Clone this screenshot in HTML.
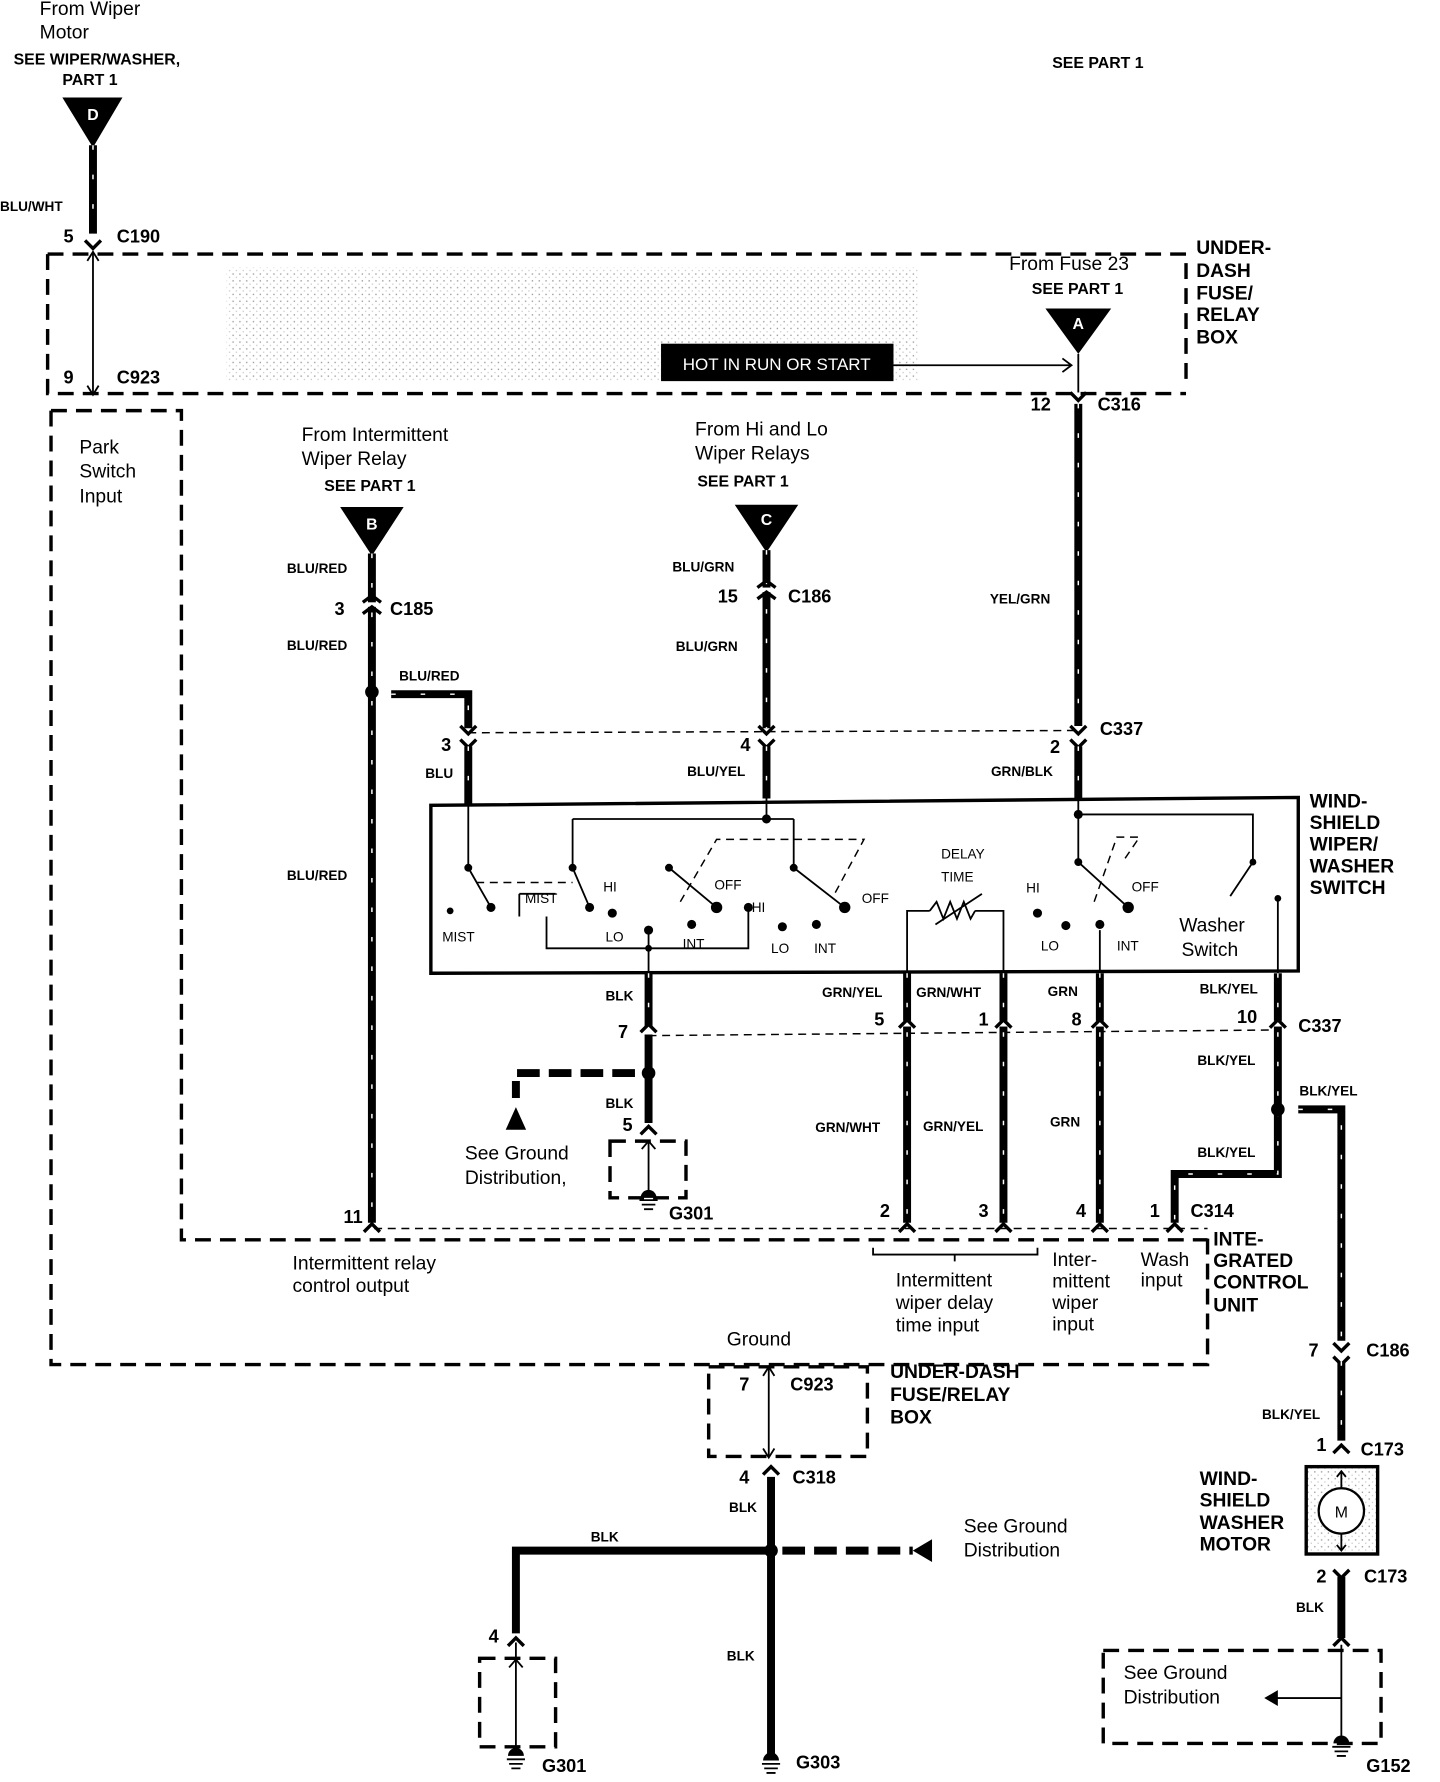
<!DOCTYPE html>
<html><head><meta charset="utf-8"><style>
html,body{margin:0;padding:0;background:#fff;}
svg{display:block}
text{font-family:"Liberation Sans Narrow","Liberation Sans",sans-serif;fill:#000}
.s{font-size:12px;font-weight:bold}
.m{font-size:17px}
.n{font-size:16px;font-weight:bold}
.b{font-size:17px;font-weight:bold}
.w{stroke:#000;stroke-width:7;fill:none}
.wd{stroke:#fff;stroke-width:1.3;stroke-dasharray:4 22;fill:none}
.t{stroke:#000;stroke-width:1.6;fill:none}
.dk{stroke:#000;stroke-width:3;stroke-dasharray:14 8;fill:none}
.dt{stroke:#000;stroke-width:1.3;stroke-dasharray:7 5;fill:none}
.dw{stroke:#000;stroke-width:7;stroke-dasharray:20 8;fill:none}
.c{stroke:#000;stroke-width:3;fill:none}
</style></head><body>
<svg width="1440" height="1782" viewBox="0 0 1270 1571" preserveAspectRatio="none" xmlns="http://www.w3.org/2000/svg">
<defs>
<pattern id="dots" width="6" height="6" patternUnits="userSpaceOnUse"><rect x="1" y="1" width="1.2" height="1.2" fill="#999"/><rect x="4" y="4" width="1" height="1" fill="#bbb"/></pattern>
</defs>
<rect width="1270" height="1571" fill="#fff"/>
<rect x="200" y="236" width="610" height="100" fill="url(#dots)"/>

<text x="35" y="13" class="m">From Wiper</text>
<text x="35" y="34" class="m">Motor</text>
<text x="12" y="57" class="s" style="font-size:14px">SEE WIPER/WASHER,</text>
<text x="55" y="75" class="s" style="font-size:14px">PART 1</text>
<polygon points="55,86 108,86 82,130" fill="#000"/>
<text x="82" y="106" style="fill:#fff;font-size:14px;font-weight:bold" text-anchor="middle">D</text>
<line x1="82" y1="128" x2="82" y2="206" class="w"/><line x1="82" y1="128" x2="82" y2="206" class="wd"/>
<text x="0" y="186" class="s">BLU/WHT</text>
<text x="56" y="214" class="n">5</text><text x="103" y="214" class="n">C190</text>
<path d="M75,212 L82,219 L89,212" class="c"/>
<text x="928" y="60" class="s" style="font-size:14px">SEE PART 1</text>

<path d="M42,224 L1046,224 L1046,340 M42,224 L42,347 L1046,347" class="dk"/>
<line x1="82" y1="222" x2="82" y2="347" class="t"/>
<path d="M77,230 L82,222 L87,230 M77,340 L82,348 L87,340" class="t"/>
<text x="56" y="338" class="n">9</text><text x="103" y="338" class="n">C923</text>
<text x="1055" y="224" class="b">UNDER-</text><text x="1055" y="244" class="b">DASH</text>
<text x="1055" y="264" class="b">FUSE/</text><text x="1055" y="283" class="b">RELAY</text><text x="1055" y="303" class="b">BOX</text>
<text x="890" y="238" class="m">From Fuse 23</text>
<text x="910" y="259" class="s" style="font-size:14px">SEE PART 1</text>
<polygon points="922,272 980,272 951,312" fill="#000"/>
<text x="951" y="290" style="fill:#fff;font-size:14px;font-weight:bold" text-anchor="middle">A</text>
<rect x="583" y="303" width="205" height="33" fill="#000"/>
<text x="685" y="326" text-anchor="middle" style="fill:#fff;font-size:15px">HOT IN RUN OR START</text>
<line x1="788" y1="322" x2="944" y2="322" class="t"/>
<path d="M937,316 L945,322 L937,328" class="t"/>
<line x1="951" y1="312" x2="951" y2="346" class="t"/>
<path d="M944,346 L951,353 L958,346" class="c"/>
<text x="909" y="362" class="n">12</text><text x="968" y="362" class="n">C316</text>
<line x1="951" y1="356" x2="951" y2="640" class="w"/><line x1="951" y1="356" x2="951" y2="640" class="wd"/>
<text x="873" y="532" class="s">YEL/GRN</text>

<path d="M45,362 L160,362 L160,1093 L1065,1093 M45,362 L45,1203 L1065,1203 L1065,1086" class="dk"/>
<line x1="330" y1="1083" x2="1065" y2="1083" class="dt"/>
<text x="70" y="400" class="m">Park</text><text x="70" y="421" class="m">Switch</text><text x="70" y="443" class="m">Input</text>

<text x="266" y="389" class="m">From Intermittent</text>
<text x="266" y="410" class="m">Wiper Relay</text>
<text x="286" y="433" class="s" style="font-size:14px">SEE PART 1</text>
<polygon points="300,447 356,447 328,490" fill="#000"/>
<text x="328" y="467" style="fill:#fff;font-size:14px;font-weight:bold" text-anchor="middle">B</text>
<line x1="328" y1="488" x2="328" y2="1078" class="w"/><line x1="328" y1="488" x2="328" y2="1078" class="wd"/>
<rect x="320" y="531" width="16" height="4" fill="#fff"/>
<path d="M320,531 L328,525 L336,531 M320,541 L328,535 L336,541" class="c"/>
<text x="253" y="505" class="s">BLU/RED</text>
<text x="295" y="542" class="n">3</text><text x="344" y="542" class="n">C185</text>
<text x="253" y="573" class="s">BLU/RED</text>
<text x="253" y="776" class="s">BLU/RED</text>
<circle cx="328" cy="610" r="6" fill="#000"/>
<text x="352" y="600" class="s">BLU/RED</text>
<path d="M345,612 L413,612 L413,642" class="w"/><path d="M345,612 L413,612 L413,642" class="wd"/>
<path d="M406,640 L413,647 L420,640 M406,652 L413,659 L420,652" class="c"/>
<text x="389" y="662" class="n">3</text><text x="375" y="686" class="s">BLU</text>
<line x1="413" y1="658" x2="413" y2="710" class="w"/><line x1="413" y1="658" x2="413" y2="710" class="wd"/>
<text x="303" y="1078" class="n">11</text>
<path d="M321,1086 L328,1079 L335,1086" class="c"/>

<text x="613" y="384" class="m">From Hi and Lo</text>
<text x="613" y="405" class="m">Wiper Relays</text>
<text x="615" y="429" class="s" style="font-size:14px">SEE PART 1</text>
<polygon points="648,445 704,445 676,487" fill="#000"/>
<text x="676" y="463" style="fill:#fff;font-size:14px;font-weight:bold" text-anchor="middle">C</text>
<line x1="676" y1="485" x2="676" y2="642" class="w"/><line x1="676" y1="485" x2="676" y2="642" class="wd"/>
<rect x="668" y="518" width="16" height="4" fill="#fff"/>
<path d="M668,518 L676,512 L684,518 M668,528 L676,522 L684,528" class="c"/>
<text x="593" y="504" class="s">BLU/GRN</text>
<text x="633" y="531" class="n">15</text><text x="695" y="531" class="n">C186</text>
<text x="596" y="574" class="s">BLU/GRN</text>
<path d="M669,640 L676,647 L683,640 M669,652 L676,659 L683,652" class="c"/>
<text x="653" y="662" class="n">4</text><text x="606" y="684" class="s">BLU/YEL</text>
<line x1="676" y1="658" x2="676" y2="704" class="w"/><line x1="676" y1="658" x2="676" y2="704" class="wd"/>
<path d="M944,640 L951,647 L958,640 M944,652 L951,659 L958,652" class="c"/>
<text x="970" y="648" class="n">C337</text>
<text x="926" y="664" class="n">2</text><text x="874" y="684" class="s">GRN/BLK</text>
<line x1="951" y1="658" x2="951" y2="704" class="w"/><line x1="951" y1="658" x2="951" y2="704" class="wd"/>
<line x1="413" y1="646" x2="951" y2="644" class="dt"/>

<path d="M380,858 L380,710 L1145,703 L1145,856 Z" fill="none" stroke="#000" stroke-width="3"/>
<text x="1155" y="712" class="b">WIND-</text><text x="1155" y="731" class="b">SHIELD</text>
<text x="1155" y="750" class="b">WIPER/</text><text x="1155" y="769" class="b">WASHER</text><text x="1155" y="788" class="b">SWITCH</text>
<g class="t">
<path d="M413,710 L413,765"/><path d="M413,765 L433,800"/>
<path d="M676,704 L676,722 M505,722 L700,722 M505,722 L505,765 M700,722 L700,765"/>
<path d="M951,704 L951,760 M951,718 L1105,718 L1105,760"/>
<path d="M505,765 L520,800 M700,765 L745,800 M590,765 L632,800 M951,760 L995,800 M1105,760 L1085,790"/>
<path d="M482,808 L482,836 L660,836 L660,800 M572,820 L572,858"/>
<path d="M458,788 L458,808 M458,788 L490,788"/>
<path d="M800,858 L800,803 L820,803 M860,803 L885,803 L885,858 M820,803 L826,795 L832,810 L838,795 L844,810 L850,795 L856,810 L860,803 M825,815 L866,788"/>
<path d="M970,820 L970,858 M1127,790 L1127,858"/>
</g>
<g class="dt"><path d="M600,795 L632,740 L762,740 L735,790"/><path d="M965,795 L985,738 L1005,738 L990,760"/><path d="M420,778 L505,778"/></g>
<g fill="#000">
<circle cx="413" cy="765" r="3.5"/><circle cx="397" cy="803" r="3"/><circle cx="433" cy="800" r="4"/><circle cx="505" cy="765" r="3.5"/><circle cx="520" cy="800" r="4"/>
<circle cx="540" cy="805" r="4"/><circle cx="572" cy="820" r="4"/><circle cx="610" cy="815" r="4"/><circle cx="590" cy="765" r="3.5"/><circle cx="632" cy="800" r="5"/>
<circle cx="660" cy="800" r="4"/><circle cx="700" cy="765" r="3.5"/><circle cx="745" cy="800" r="5"/><circle cx="690" cy="817" r="4"/><circle cx="720" cy="815" r="4"/>
<circle cx="676" cy="722" r="4"/><circle cx="951" cy="718" r="4"/><circle cx="951" cy="760" r="3.5"/><circle cx="995" cy="800" r="5"/><circle cx="915" cy="805" r="4"/>
<circle cx="940" cy="816" r="4"/><circle cx="970" cy="815" r="4"/><circle cx="1105" cy="760" r="3"/><circle cx="1127" cy="792" r="3"/><circle cx="572" cy="836" r="3"/>
</g>
<g style="font-size:12px">
<text x="390" y="830">MIST</text><text x="463" y="796">MIST</text><text x="532" y="786">HI</text><text x="534" y="830">LO</text><text x="602" y="836">INT</text>
<text x="630" y="784">OFF</text><text x="663" y="804">HI</text><text x="680" y="840">LO</text><text x="718" y="840">INT</text><text x="760" y="796">OFF</text>
<text x="830" y="757">DELAY</text><text x="830" y="777">TIME</text><text x="905" y="787">HI</text><text x="918" y="838">LO</text><text x="985" y="838">INT</text><text x="998" y="786">OFF</text>
</g>
<text x="1040" y="821" class="m">Washer</text><text x="1042" y="843" class="m">Switch</text>

<line x1="572" y1="858" x2="572" y2="905" class="w"/><line x1="572" y1="858" x2="572" y2="905" class="wd"/>
<text x="534" y="882" class="s">BLK</text><text x="545" y="915" class="n">7</text>
<path d="M565,910 L572,903 L579,910" class="c"/>
<line x1="572" y1="912" x2="572" y2="946" class="w"/>
<line x1="572" y1="913" x2="1125" y2="908" class="dt"/>
<circle cx="572" cy="946" r="6" fill="#000"/>
<path d="M560,946 L455,946 L455,968" class="dw"/>
<polygon points="455,976 446,996 464,996" fill="#000"/>
<text x="410" y="1022" class="m">See Ground</text><text x="410" y="1044" class="m">Distribution,</text>
<line x1="572" y1="950" x2="572" y2="990" class="w"/>
<text x="534" y="977" class="s">BLK</text><text x="549" y="997" class="n">5</text>
<path d="M565,1000 L572,993 L579,1000" class="c"/>
<rect x="538" y="1006" width="67" height="50" class="dk"/>
<line x1="572" y1="1005" x2="572" y2="1050" class="t"/><path d="M566,1013 L572,1006 L578,1013" class="t"/>
<g class="t"><path d="M564,1058 L580,1058 M566,1062 L578,1062 M568,1066 L576,1066"/></g>
<path d="M565,1056 A7,7 0 0 1 579,1056 Z" fill="#000"/>
<text x="590" y="1075" class="n">G301</text>

<g>
<line x1="800" y1="858" x2="800" y2="1078" class="w"/><line x1="800" y1="858" x2="800" y2="1078" class="wd"/>
<line x1="885" y1="858" x2="885" y2="1078" class="w"/><line x1="885" y1="858" x2="885" y2="1078" class="wd"/>
<line x1="970" y1="858" x2="970" y2="1078" class="w"/><line x1="970" y1="858" x2="970" y2="1078" class="wd"/>
<line x1="1127" y1="858" x2="1127" y2="975" class="w"/><line x1="1127" y1="858" x2="1127" y2="975" class="wd"/>
<path d="M1127,980 L1127,1035 L1036,1035 L1036,1078" class="w"/><path d="M1127,980 L1127,1035 L1036,1035 L1036,1078" class="wd"/>
</g>
<g fill="#fff"><rect x="790" y="900" width="20" height="5"/><rect x="875" y="900" width="20" height="5"/><rect x="960" y="900" width="20" height="5"/><rect x="1117" y="900" width="20" height="5"/></g>
<path d="M793,906 L800,899 L807,906 M878,906 L885,899 L892,906 M963,906 L970,899 L977,906 M1120,906 L1127,899 L1134,906" class="c"/>
<text x="725" y="879" class="s">GRN/YEL</text><text x="808" y="879" class="s">GRN/WHT</text><text x="924" y="878" class="s">GRN</text><text x="1058" y="876" class="s">BLK/YEL</text>
<text x="771" y="904" class="n">5</text><text x="863" y="904" class="n">1</text><text x="945" y="904" class="n">8</text><text x="1091" y="902" class="n">10</text><text x="1145" y="910" class="n">C337</text>
<text x="1056" y="939" class="s">BLK/YEL</text>
<circle cx="1127" cy="978" r="6" fill="#000"/>
<text x="1146" y="966" class="s">BLK/YEL</text>
<text x="719" y="998" class="s">GRN/WHT</text><text x="814" y="997" class="s">GRN/YEL</text><text x="926" y="993" class="s">GRN</text><text x="1056" y="1020" class="s">BLK/YEL</text>
<text x="776" y="1073" class="n">2</text><text x="863" y="1073" class="n">3</text><text x="949" y="1073" class="n">4</text><text x="1014" y="1073" class="n">1</text><text x="1050" y="1073" class="n">C314</text>
<path d="M793,1086 L800,1079 L807,1086 M878,1086 L885,1079 L892,1086 M963,1086 L970,1079 L977,1086 M1029,1086 L1036,1079 L1043,1086" class="c"/>
<text x="258" y="1119" class="m">Intermittent relay</text><text x="258" y="1139" class="m">control output</text>
<path d="M770,1100 L770,1106 L915,1106 L915,1100 M842,1106 L842,1112" class="t"/>
<text x="790" y="1134" class="m">Intermittent</text><text x="790" y="1154" class="m">wiper delay</text><text x="790" y="1174" class="m">time input</text>
<text x="928" y="1116" class="m">Inter-</text><text x="928" y="1135" class="m">mittent</text><text x="928" y="1154" class="m">wiper</text><text x="928" y="1173" class="m">input</text>
<text x="1006" y="1116" class="m">Wash</text><text x="1006" y="1134" class="m">input</text>
<text x="1070" y="1098" class="b">INTE-</text><text x="1070" y="1117" class="b">GRATED</text><text x="1070" y="1136" class="b">CONTROL</text><text x="1070" y="1156" class="b">UNIT</text>

<path d="M1145,978 L1183,978 L1183,1182" class="w"/><path d="M1145,978 L1183,978 L1183,1182" class="wd"/>
<path d="M1176,1184 L1183,1191 L1190,1184 M1176,1196 L1183,1203 L1190,1196" class="c"/>
<text x="1154" y="1196" class="n">7</text><text x="1205" y="1196" class="n">C186</text>
<line x1="1183" y1="1200" x2="1183" y2="1270" class="w"/><line x1="1183" y1="1200" x2="1183" y2="1270" class="wd"/>
<text x="1113" y="1251" class="s">BLK/YEL</text>
<path d="M1176,1281 L1183,1274 L1190,1281" class="c"/>
<text x="1161" y="1279" class="n">1</text><text x="1200" y="1283" class="n">C173</text>
<rect x="1152" y="1293" width="63" height="77" fill="url(#dots)" stroke="#000" stroke-width="3"/>
<circle cx="1183" cy="1332" r="20" fill="#fff" stroke="#000" stroke-width="2"/>
<text x="1183" y="1338" text-anchor="middle" style="font-size:14px">M</text>
<path d="M1183,1297 L1183,1312 M1183,1352 L1183,1367 M1179,1302 L1183,1297 L1187,1302 M1179,1362 L1183,1367 L1187,1362" class="t"/>
<text x="1058" y="1309" class="b">WIND-</text><text x="1058" y="1328" class="b">SHIELD</text><text x="1058" y="1348" class="b">WASHER</text><text x="1058" y="1367" class="b">MOTOR</text>
<path d="M1176,1384 L1183,1391 L1190,1384" class="c"/>
<text x="1161" y="1395" class="n">2</text><text x="1203" y="1395" class="n">C173</text>
<line x1="1183" y1="1390" x2="1183" y2="1444" class="w"/>
<text x="1143" y="1421" class="s">BLK</text>
<path d="M1176,1451 L1183,1444 L1190,1451" class="c"/>
<rect x="973" y="1455" width="245" height="82" class="dk"/>
<text x="991" y="1480" class="m">See Ground</text><text x="991" y="1502" class="m">Distribution</text>
<line x1="1183" y1="1450" x2="1183" y2="1530" class="t"/>
<line x1="1125" y1="1497" x2="1183" y2="1497" class="t"/>
<polygon points="1115,1497 1127,1490 1127,1504" fill="#000"/>
<path d="M1176,1537 A7,7 0 0 1 1190,1537 Z" fill="#000"/>
<g class="t"><path d="M1175,1540 L1191,1540 M1177,1544 L1189,1544 M1179,1548 L1187,1548"/></g>
<text x="1205" y="1562" class="n">G152</text>

<text x="641" y="1186" class="m">Ground</text>
<rect x="625" y="1205" width="140" height="79" class="dk"/>
<line x1="678" y1="1206" x2="678" y2="1284" class="t"/>
<path d="M673,1213 L678,1205 L683,1213 M673,1277 L678,1285 L683,1277" class="t"/>
<text x="652" y="1226" class="n">7</text><text x="697" y="1226" class="n">C923</text>
<text x="785" y="1215" class="b">UNDER-DASH</text><text x="785" y="1235" class="b">FUSE/RELAY</text><text x="785" y="1255" class="b">BOX</text>
<path d="M673,1300 L680,1293 L687,1300" class="c"/>
<text x="652" y="1308" class="n">4</text><text x="699" y="1308" class="n">C318</text>
<line x1="680" y1="1302" x2="680" y2="1548" class="w"/>
<text x="643" y="1333" class="s">BLK</text>
<circle cx="680" cy="1367" r="6" fill="#000"/>
<path d="M680,1367 L455,1367 L455,1440" class="w"/>
<text x="521" y="1359" class="s">BLK</text>
<path d="M690,1367 L805,1367" class="dw"/>
<polygon points="805,1367 822,1357 822,1377" fill="#000"/>
<text x="850" y="1351" class="m">See Ground</text><text x="850" y="1372" class="m">Distribution</text>
<text x="641" y="1464" class="s">BLK</text>
<path d="M448,1451 L455,1444 L462,1451" class="c"/>
<text x="431" y="1448" class="n">4</text>
<rect x="423" y="1462" width="67" height="78" class="dk"/>
<line x1="455" y1="1448" x2="455" y2="1540" class="t"/><path d="M449,1470 L455,1463 L461,1470" class="t"/>
<path d="M448,1548 A7,7 0 0 1 462,1548 Z" fill="#000"/>
<g class="t"><path d="M447,1551 L463,1551 M449,1555 L461,1555 M451,1559 L459,1559"/></g>
<text x="478" y="1562" class="n">G301</text>
<path d="M673,1552 A7,7 0 0 1 687,1552 Z" fill="#000"/>
<g class="t"><path d="M672,1555 L688,1555 M674,1559 L686,1559 M676,1563 L684,1563"/></g>
<text x="702" y="1559" class="n">G303</text>
</svg>
</body></html>
